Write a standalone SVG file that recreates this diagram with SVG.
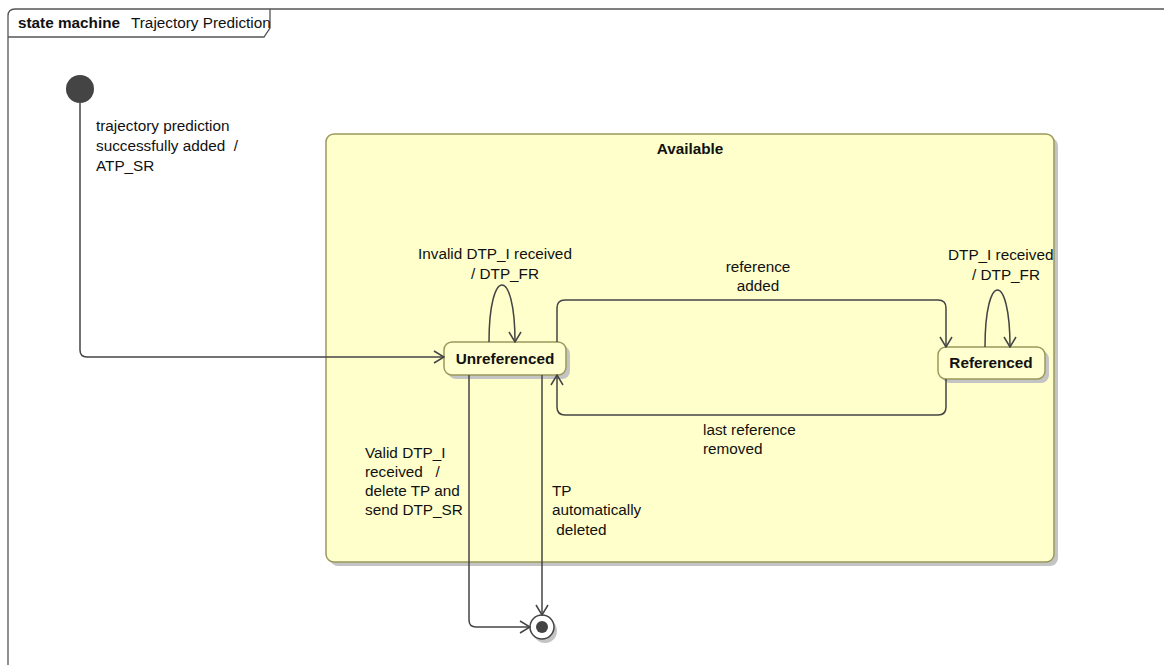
<svg xmlns="http://www.w3.org/2000/svg" width="1164" height="665" viewBox="0 0 1164 665">
<style>
.t{font-family:"Liberation Sans",Arial,sans-serif;font-size:15.3px;fill:#111;white-space:pre}
.b{font-weight:bold}
.edge{fill:none;stroke:#444;stroke-width:1.5}
.frame{fill:none;stroke:#555;stroke-width:1.3}
.shadow{fill:#c4c4c4}
.comp{fill:#ffffcc;stroke:#99995c;stroke-width:1.5}
.state{fill:#ffffd0;stroke:#99995c;stroke-width:1.5}
</style>
<defs>
<marker id="arr" markerUnits="userSpaceOnUse" markerWidth="12" markerHeight="14" viewBox="0 0 12 14" refX="11" refY="7" orient="auto">
<path d="M1,1 L11,7 L1,13" fill="none" stroke="#444" stroke-width="1.5"/>
</marker>
</defs>
<g id="frame">
<path class="frame" d="M8,665 L8,16 Q8,9 15,9 L1164,9"/>
<path class="frame" d="M270,9 L270,28 L264,37 L8,37"/>
<text class="t b" x="18" y="28">state machine</text>
<text class="t" x="131" y="28">Trajectory Prediction</text>
</g>
<g id="available">
<rect class="shadow" x="330" y="138" width="728" height="428" rx="8"/>
<rect class="comp" x="326" y="134" width="728" height="428" rx="8"/>
<text class="t b" x="690" y="154" text-anchor="middle">Available</text>
</g>
<g id="initial">
<circle cx="80" cy="89" r="14" fill="#444"/>
</g>
<g id="unreferenced">
<rect class="shadow" x="448" y="346" width="122" height="33" rx="8"/>
<rect class="state" x="444" y="342" width="122" height="33" rx="8"/>
<text class="t b" x="505" y="364" text-anchor="middle">Unreferenced</text>
</g>
<g id="referenced">
<rect class="shadow" x="942" y="351" width="107" height="32" rx="8"/>
<rect class="state" x="938" y="347" width="107" height="32" rx="8"/>
<text class="t b" x="991" y="368" text-anchor="middle">Referenced</text>
</g>
<g id="final">
<circle cx="545" cy="631" r="12" fill="#c4c4c4"/>
<circle cx="542" cy="627" r="12" fill="#fff" stroke="#444" stroke-width="1.5"/>
<circle cx="542" cy="627" r="6" fill="#444"/>
</g>
<g id="connectors">
<path class="edge" d="M80,103 L80,350 Q80,357 87,357 L444,357" marker-end="url(#arr)"/>
<path class="edge" d="M489,342 C489,266 515,266 515,342" marker-end="url(#arr)"/>
<path class="edge" d="M985,347 C985,271 1010,271 1010,347" marker-end="url(#arr)"/>
<path class="edge" d="M557,342 L557,308 Q557,300 565,300 L938,300 Q946,300 946,308 L946,347" marker-end="url(#arr)"/>
<path class="edge" d="M946,379 L946,407 Q946,415 938,415 L565,415 Q557,415 557,407 L557,375" marker-end="url(#arr)"/>
<path class="edge" d="M469,375 L469,620 Q469,627 476,627 L530,627" marker-end="url(#arr)"/>
<path class="edge" d="M542,375 L542,615" marker-end="url(#arr)"/>
</g>
<g id="labels">
<text class="t" x="96" y="131">trajectory prediction</text>
<text class="t" x="96" y="151">successfully added  /</text>
<text class="t" x="96" y="171">ATP_SR</text>
<text class="t" x="418" y="259">Invalid DTP_I received</text>
<text class="t" x="471" y="279">/ DTP_FR</text>
<text class="t" x="948" y="260">DTP_I received</text>
<text class="t" x="972" y="280">/ DTP_FR</text>
<text class="t" x="758" y="272" text-anchor="middle">reference</text>
<text class="t" x="758" y="291" text-anchor="middle">added</text>
<text class="t" x="703" y="435">last reference</text>
<text class="t" x="703" y="454">removed</text>
<text class="t" x="365" y="458">Valid DTP_I</text>
<text class="t" x="365" y="477">received   /</text>
<text class="t" x="365" y="496">delete TP and</text>
<text class="t" x="365" y="515">send DTP_SR</text>
<text class="t" x="552" y="496">TP</text>
<text class="t" x="552" y="515">automatically</text>
<text class="t" x="552" y="535"> deleted</text>
</g>
</svg>
